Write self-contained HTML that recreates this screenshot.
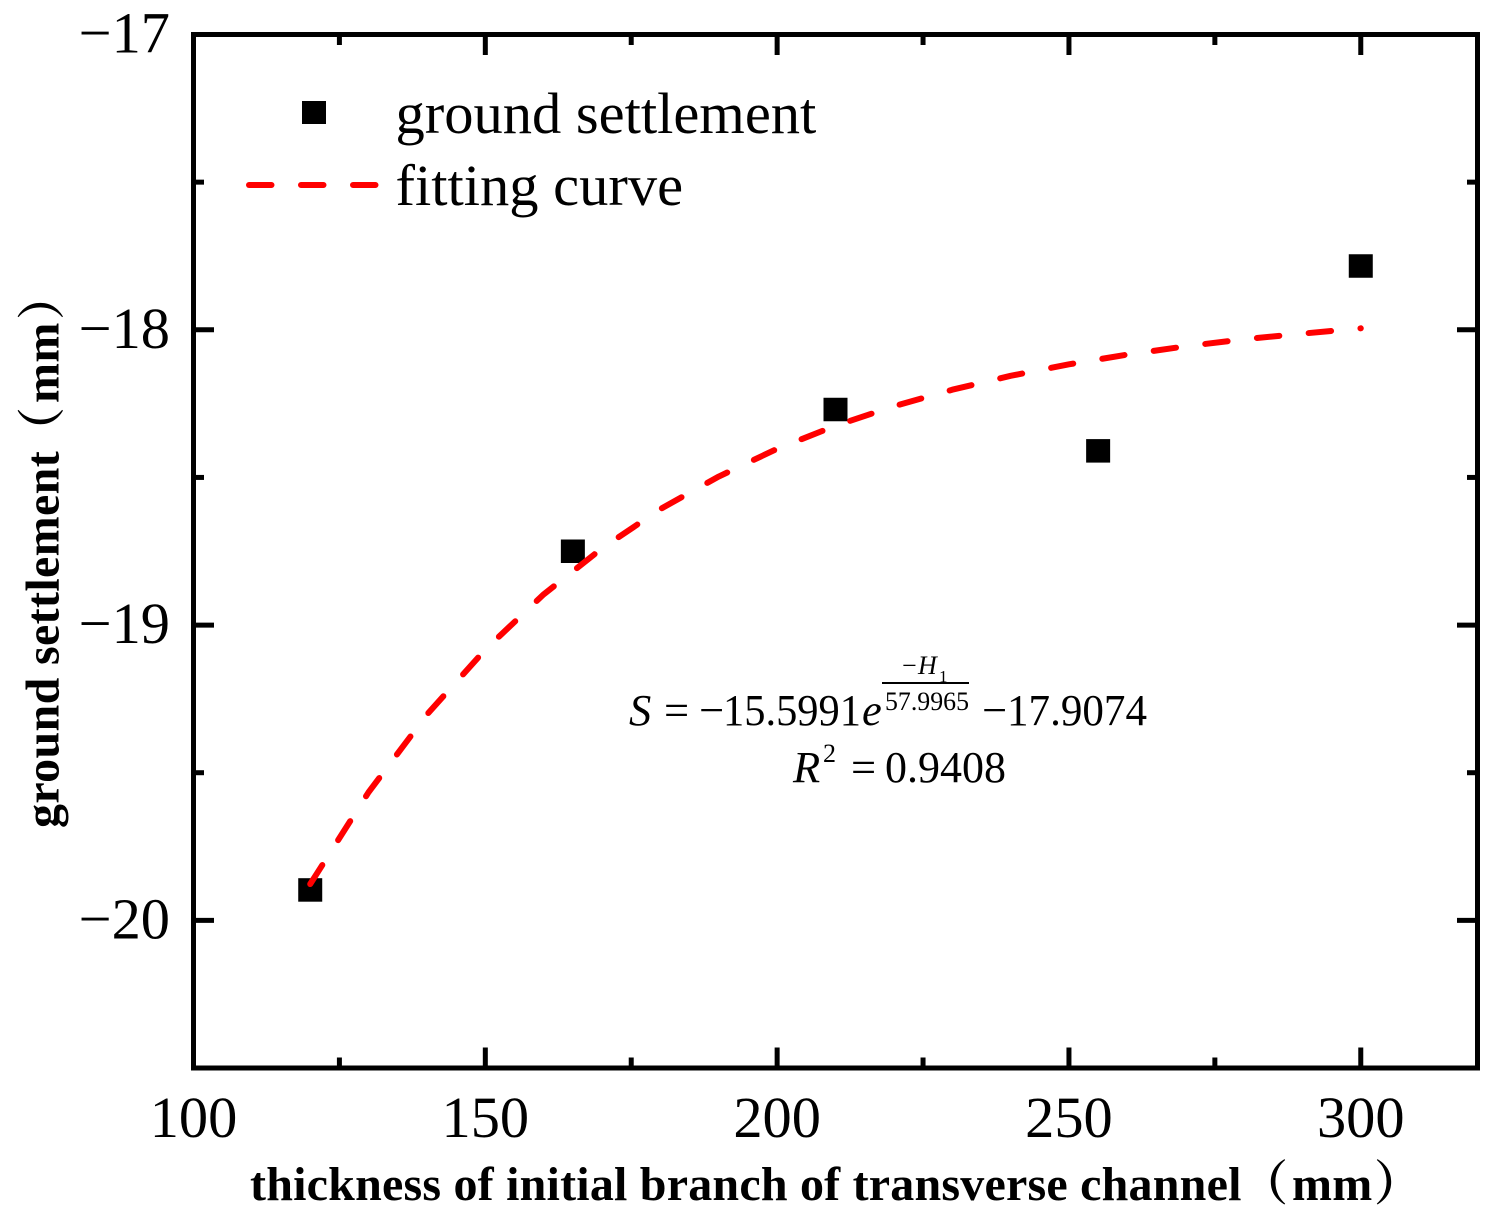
<!DOCTYPE html>
<html lang="en">
<head>
<meta charset="utf-8">
<title>Ground settlement vs thickness of initial branch</title>
<style>
  html, body { margin: 0; padding: 0; background: #fff; }
  svg { display: block; }
  text { font-family: "Liberation Serif", "Noto Serif CJK SC", serif; fill: #000; }
  .tick-label { font-size: 58.4px; }
  .legend-text { font-size: 58.5px; }
  .axis-title { font-size: 48px; font-weight: bold; }
  .eq { font-size: 44.5px; }
  .eq-small { font-size: 26px; }
  .eq-sub { font-size: 17px; }
  .it { font-style: italic; }
</style>
</head>
<body>
<svg id="chart" xmlns="http://www.w3.org/2000/svg" width="1495" height="1221" viewBox="0 0 1495 1221">
  <rect x="0" y="0" width="1495" height="1221" fill="#fff"/>
  <g id="ticks"></g>
  <g id="labels"></g>
  <rect x="193.5" y="34.5" width="1284" height="1033.5" fill="none" stroke="#000" stroke-width="5"/>
  <g id="marks"></g>

  <g>
    <rect x="302" y="101" width="24" height="23" fill="#000"/>
    <text class="legend-text" x="395.5" y="133">ground settlement</text>
    <line x1="249" y1="185" x2="376.5" y2="185" stroke="#f00" stroke-width="6" stroke-linecap="round" stroke-dasharray="22.5 29.5"/>
    <text class="legend-text" x="395.5" y="205">fitting curve</text>
  </g>

  <g>
    <text class="eq it" x="629" y="725">S</text>
    <text class="eq" x="664" y="725">=</text>
    <text class="eq" x="699" y="725">−</text>
    <text class="eq" x="723" y="725" textLength="138" lengthAdjust="spacingAndGlyphs">15.5991</text>
    <text class="eq it" x="862" y="725">e</text>
    <text class="eq-small" x="902" y="674">−</text>
    <text class="eq-small it" x="918" y="674">H</text>
    <text class="eq-sub" x="939" y="682">1</text>
    <rect x="882" y="682" width="87" height="2" fill="#000"/>
    <text class="eq-small" x="885" y="710" textLength="84" lengthAdjust="spacingAndGlyphs">57.9965</text>
    <text class="eq" x="982" y="725">−</text>
    <text class="eq" x="1007" y="725" textLength="140" lengthAdjust="spacingAndGlyphs">17.9074</text>
    <text class="eq it" x="793" y="782">R</text>
    <text class="eq-small" x="823" y="762">2</text>
    <text class="eq" x="851" y="782">=</text>
    <text class="eq" x="885" y="782" textLength="121" lengthAdjust="spacingAndGlyphs">0.9408</text>
  </g>

  <text class="axis-title" y="1200" letter-spacing="0.21"><tspan x="250">thickness of initial branch of transverse channel</tspan><tspan x="1240">（</tspan><tspan x="1292">mm</tspan><tspan x="1374">）</tspan></text>
  <text class="axis-title" transform="translate(58.5 828) rotate(-90)" y="0" letter-spacing="0.35"><tspan x="0">ground settlement</tspan><tspan x="373">（</tspan><tspan x="425">mm</tspan><tspan x="508">）</tspan></text>
</svg>

<script>
// Chart data
const xMajorTicks = [150, 200, 250, 300];
const xMinorTicks = [125, 175, 225, 275];
const yMajorTicks = [-18, -19, -20];
const yMinorTicks = [-17.5, -18.5, -19.5];
const xTickLabels = [100, 150, 200, 250, 300];
const yTickLabels = [-17, -18, -19, -20];
const pointThickness = [120, 165, 210, 255, 300];
const pointSettlement = [-19.897, -18.75, -18.27, -18.41, -17.784];
const curveThickness = [120, 130, 140, 150, 160, 170, 180, 190, 200, 210, 220, 230, 240, 250, 260, 270, 280, 290, 300];
const curveSettlement = [-19.877, -19.566, -19.303, -19.083, -18.896, -18.74, -18.607, -18.497, -18.403, -18.325, -18.259, -18.203, -18.156, -18.117, -18.084, -18.056, -18.032, -18.013, -17.995];

const SVG_NS = 'http://www.w3.org/2000/svg';
const xScale = function (v) { return 193.5 + (v - 100) * (1284 / 220); };
const yScale = function (v) { return 34.5 + (-17 - v) * (1033.5 / 3.5); };
const ticksGroup = document.getElementById('ticks');
const labelsGroup = document.getElementById('labels');
const marksGroup = document.getElementById('marks');

function drawTick(x1, y1, x2, y2) {
  const el = document.createElementNS(SVG_NS, 'line');
  
  
  el.setAttribute('x1', x1);
  el.setAttribute('y1', y1);
  el.setAttribute('x2', x2);
  el.setAttribute('y2', y2);
  el.setAttribute('stroke', '#000');
  el.setAttribute('stroke-width', '5');
  ticksGroup.appendChild(el);
}

const majorLen = 20.5;
const minorLen = 10.5;
const frameTop = yScale(-17);
const frameBottom = yScale(-20.5);
const frameLeft = xScale(100);
const frameRight = xScale(320);

xMajorTicks.forEach(function (v) {
  drawTick(xScale(v), frameBottom, xScale(v), frameBottom - majorLen);
  drawTick(xScale(v), frameTop, xScale(v), frameTop + majorLen);
});
xMinorTicks.forEach(function (v) {
  drawTick(xScale(v), frameBottom, xScale(v), frameBottom - minorLen);
  drawTick(xScale(v), frameTop, xScale(v), frameTop + minorLen);
});
yMajorTicks.forEach(function (v) {
  drawTick(frameLeft, yScale(v), frameLeft + majorLen, yScale(v));
  drawTick(frameRight, yScale(v), frameRight - majorLen, yScale(v));
});
yMinorTicks.forEach(function (v) {
  drawTick(frameLeft, yScale(v), frameLeft + minorLen, yScale(v));
  drawTick(frameRight, yScale(v), frameRight - minorLen, yScale(v));
});

xTickLabels.forEach(function (v) {
  const el = document.createElementNS(SVG_NS, 'text');
  
  
  el.setAttribute('class', 'tick-label');
  el.setAttribute('x', xScale(v));
  el.setAttribute('y', 1137);
  el.setAttribute('text-anchor', 'middle');
  el.textContent = String(v);
  labelsGroup.appendChild(el);
});
yTickLabels.forEach(function (v) {
  const el = document.createElementNS(SVG_NS, 'text');
  
  
  el.setAttribute('class', 'tick-label');
  el.setAttribute('x', 170);
  el.setAttribute('y', yScale(v) + 18);
  el.setAttribute('text-anchor', 'end');
  el.textContent = '\u2212' + Math.abs(v);
  labelsGroup.appendChild(el);
});

pointThickness.forEach(function (v, i) {
  const el = document.createElementNS(SVG_NS, 'rect');
  
  
  el.setAttribute('x', xScale(v) - 12);
  el.setAttribute('y', yScale(pointSettlement[i]) - 11.75);
  el.setAttribute('width', 24);
  el.setAttribute('height', 23.5);
  el.setAttribute('fill', '#000');
  marksGroup.appendChild(el);
});

const curve = document.createElementNS(SVG_NS, 'polyline');


curve.setAttribute('points', curveThickness.map(function (v, i) {
  return xScale(v).toFixed(2) + ',' + yScale(curveSettlement[i]).toFixed(2);
}).join(' '));
curve.setAttribute('fill', 'none');
curve.setAttribute('stroke', '#f00');
curve.setAttribute('stroke-width', '6');
curve.setAttribute('stroke-linecap', 'round');
curve.setAttribute('stroke-linejoin', 'round');
curve.setAttribute('stroke-dasharray', '22.5 29.5');
marksGroup.appendChild(curve);
</script>
</body>
</html>
